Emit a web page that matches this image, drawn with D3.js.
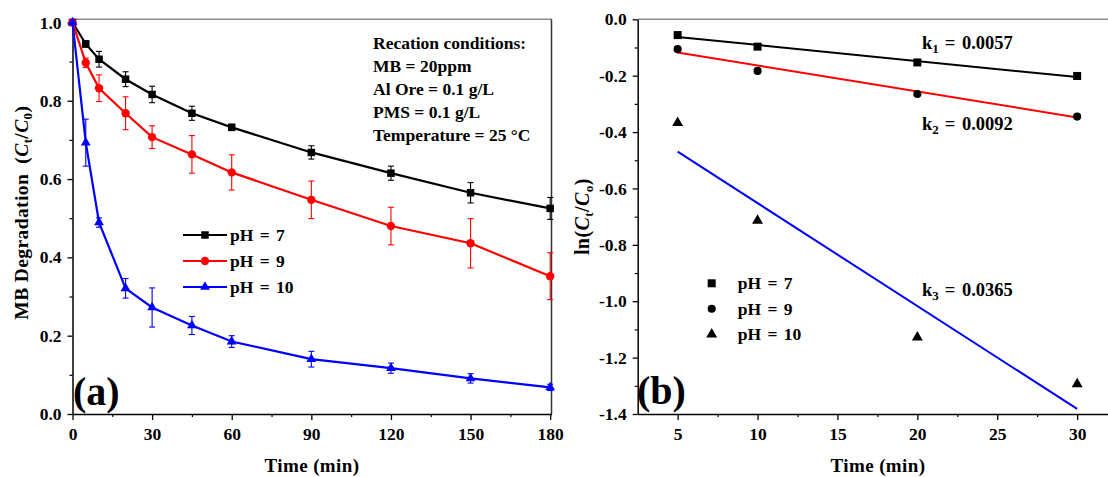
<!DOCTYPE html>
<html>
<head>
<meta charset="utf-8">
<script src="https://cdn.jsdelivr.net/npm/d3@7"></script>
<style>
  html, body { margin: 0; padding: 0; background: #fff; }
  svg text { font-family: "Liberation Serif", "Times New Roman", serif; font-weight: bold; fill: #000; }
</style>
</head>
<body>
<svg id="chart" width="1108" height="477"></svg>
<script>
// ---- data: panel (a) degradation curves ----
const times = [0, 5, 10, 20, 30, 45, 60, 90, 120, 150, 180];
const ph7 = [1.0, 0.945, 0.906, 0.855, 0.816, 0.768, 0.732, 0.668, 0.615, 0.565, 0.525];
const ph7Err = [0, 0.008, 0.02, 0.019, 0.021, 0.018, 0.008, 0.017, 0.018, 0.026, 0.028];
const ph9 = [1.0, 0.897, 0.832, 0.768, 0.707, 0.663, 0.617, 0.547, 0.480, 0.436, 0.352];
const ph9Err = [0, 0.012, 0.034, 0.042, 0.029, 0.048, 0.045, 0.048, 0.048, 0.063, 0.060];
const ph10 = [1.0, 0.693, 0.489, 0.321, 0.272, 0.226, 0.185, 0.140, 0.117, 0.091, 0.068];
const ph10Err = [0, 0.06, 0.012, 0.025, 0.05, 0.023, 0.015, 0.02, 0.013, 0.012, 0.008];
const seriesNames = ["pH = 7", "pH = 9", "pH = 10"];
const seriesColors = ["#000000", "#ff0000", "#0000ff"];

const timeTicksA = [0, 30, 60, 90, 120, 150, 180];
const degTicks = [0.0, 0.2, 0.4, 0.6, 0.8, 1.0];

const conditions = [
  "Recation conditions:",
  "MB = 20ppm",
  "Al Ore = 0.1 g/L",
  "PMS = 0.1 g/L",
  "Temperature = 25 \u00B0C"
];

// ---- data: panel (b) pseudo-first-order kinetics ----
const kinTimes = [5, 10, 20, 30];
const lnPh7 = [-0.056, -0.097, -0.153, -0.201];
const lnPh9 = [-0.106, -0.183, -0.265, -0.345];
const lnPh10 = [-0.367, -0.714, -1.128, -1.294];
const kValues = [0.0057, 0.0092, 0.0365];
const fitIntercepts = [-0.034, -0.072, -0.287];
const kLabels = ["0.0057", "0.0092", "0.0365"];

const timeTicksB = [5, 10, 15, 20, 25, 30];
const lnTicks = [0.0, -0.2, -0.4, -0.6, -0.8, -1.0, -1.2, -1.4];

const svg = d3.select("#chart");
const symbolTypes = [d3.symbolSquare, d3.symbolCircle, d3.symbolTriangle];
const TICK_FONT = 17.5;
const TITLE_FONT = 19;

function styleAxis(g) {
  g.select(".domain").attr("stroke", "#000").attr("stroke-width", 1.5);
  g.selectAll(".tick line").attr("stroke", "#000").attr("stroke-width", 1.3);
  g.selectAll(".tick text").attr("font-size", TICK_FONT)
    .style("font-family", '"Liberation Serif", serif').style("font-weight", "bold");
}
function styleMinor(g) {
  g.select(".domain").remove();
  g.selectAll("line").attr("stroke", "#000").attr("stroke-width", 1.2);
}
// label with C_t / C_0 style subscripts
function ratioLabel(sel, prefix, subA, subB, suffix, size) {
  const sub = size * 0.66;
  sel.append("tspan").text(prefix);
  sel.append("tspan").attr("font-style", "italic").text("C");
  sel.append("tspan").attr("font-size", sub).attr("dy", 4).text(subA);
  sel.append("tspan").attr("dy", -4).text("/");
  sel.append("tspan").attr("font-style", "italic").text("C");
  sel.append("tspan").attr("font-size", sub).attr("dy", 4).text(subB);
  sel.append("tspan").attr("dy", -4).text(suffix);
}

// ================= panel (a) =================
const xA = d3.scaleLinear().domain([0, 180.5]).range([72.5, 551.5]);
const yA = d3.scaleLinear().domain([0, 1.008]).range([414, 19.3]);

const gA = svg.append("g");

// frame: top and right edges
gA.append("line").attr("x1", xA.range()[0]).attr("x2", xA.range()[1])
  .attr("y1", yA.range()[1]).attr("y2", yA.range()[1])
  .attr("stroke", "#8a8a8a").attr("stroke-width", 1.5);
gA.append("line").attr("x1", xA.range()[1]).attr("x2", xA.range()[1])
  .attr("y1", yA.range()[0]).attr("y2", yA.range()[1])
  .attr("stroke", "#333").attr("stroke-width", 1.5);

// minor ticks
gA.append("g").attr("transform", `translate(0,${yA.range()[0]})`)
  .call(d3.axisBottom(xA).tickValues(d3.range(15, 181, 30)).tickSize(3).tickFormat(""))
  .call(styleMinor);
gA.append("g").attr("transform", `translate(${xA.range()[0]},0)`)
  .call(d3.axisLeft(yA).tickValues(d3.range(0.1, 1.0, 0.2)).tickSize(3).tickFormat(""))
  .call(styleMinor);

gA.append("g").attr("transform", `translate(0,${yA.range()[0]})`)
  .call(d3.axisBottom(xA).tickValues(timeTicksA).tickSize(6).tickSizeOuter(0).tickPadding(8).tickFormat(d3.format("d")))
  .call(styleAxis);
gA.append("g").attr("transform", `translate(${xA.range()[0]},0)`)
  .call(d3.axisLeft(yA).tickValues(degTicks).tickSize(5).tickSizeOuter(0).tickPadding(6).tickFormat(d3.format(".1f")))
  .call(styleAxis);

const seriesA = [
  { v: ph7, e: ph7Err }, { v: ph9, e: ph9Err }, { v: ph10, e: ph10Err }
];
const lineA = d3.line().x(d => xA(d[0])).y(d => yA(d[1]));
const markerSizeA = [56, 55, 42];

seriesA.forEach((s, i) => {
  const pts = times.map((t, j) => [t, s.v[j], s.e[j]]);
  const g = gA.append("g");
  // error bars
  const eb = g.selectAll(".eb").data(pts.filter(p => p[2] > 0)).join("g");
  eb.append("line").attr("x1", p => xA(p[0])).attr("x2", p => xA(p[0]))
    .attr("y1", p => yA(p[1] - p[2])).attr("y2", p => yA(p[1] + p[2]))
    .attr("stroke", seriesColors[i]).attr("stroke-width", 1.1);
  [-1, 1].forEach(sg => {
    eb.append("line").attr("x1", p => xA(p[0]) - 3).attr("x2", p => xA(p[0]) + 3)
      .attr("y1", p => yA(p[1] + sg * p[2])).attr("y2", p => yA(p[1] + sg * p[2]))
      .attr("stroke", seriesColors[i]).attr("stroke-width", 1.1);
  });
  g.append("path").datum(pts).attr("d", lineA)
    .attr("fill", "none").attr("stroke", seriesColors[i]).attr("stroke-width", 2.2);
  g.selectAll(".m").data(pts).join("path")
    .attr("transform", p => `translate(${xA(p[0])},${yA(p[1])})`)
    .attr("d", d3.symbol().type(symbolTypes[i]).size(markerSizeA[i]))
    .attr("fill", seriesColors[i]);
});

// legend (a)
const legA = gA.append("g");
seriesNames.forEach((name, i) => {
  const y = 235 + i * 26;
  legA.append("line").attr("x1", 183).attr("x2", 227).attr("y1", y).attr("y2", y)
    .attr("stroke", seriesColors[i]).attr("stroke-width", 2.2);
  legA.append("path").attr("transform", `translate(205,${y})`)
    .attr("d", d3.symbol().type(symbolTypes[i]).size(markerSizeA[i])).attr("fill", seriesColors[i]);
  legA.append("text").attr("x", 230).attr("y", y + 6).attr("font-size", 17.5).attr("word-spacing", 2).text(name);
});

// reaction conditions
conditions.forEach((c, i) => {
  gA.append("text").attr("x", 373).attr("y", 48.5 + i * 23.1).attr("font-size", 17.5).text(c);
});

gA.append("text").attr("x", 73).attr("y", 405).attr("font-size", 40).text("(a)");

gA.append("text").attr("x", d3.mean(xA.range())).attr("y", 472).attr("text-anchor", "middle")
  .attr("font-size", TITLE_FONT).attr("letter-spacing", 0.4).text("Time (min)");

const ylabA = gA.append("text").attr("transform", `translate(28,${d3.mean(yA.range()) - 4}) rotate(-90)`)
  .attr("text-anchor", "middle").attr("font-size", 19.5).attr("letter-spacing", 0.4);
ratioLabel(ylabA, "MB Degradation\u2002(", "t", "0", ")", 19.5);

// ================= panel (b) =================
const xB = d3.scaleLinear().domain([2.5, 32.5]).range([637.7, 1117.1]);
const yB = d3.scaleLinear().domain([-1.4, 0]).range([414, 19.3]);
const gB = svg.append("g");

gB.append("line").attr("x1", xB.range()[0]).attr("x2", xB.range()[1])
  .attr("y1", yB.range()[1]).attr("y2", yB.range()[1])
  .attr("stroke", "#8a8a8a").attr("stroke-width", 1.5);

gB.append("g").attr("transform", `translate(0,${yB.range()[0]})`)
  .call(d3.axisBottom(xB).tickValues(d3.range(7.5, 33, 5)).tickSize(3).tickFormat(""))
  .call(styleMinor);
gB.append("g").attr("transform", `translate(${xB.range()[0]},0)`)
  .call(d3.axisLeft(yB).tickValues(d3.range(-0.1, -1.4, -0.2)).tickSize(3).tickFormat(""))
  .call(styleMinor);

gB.append("g").attr("transform", `translate(0,${yB.range()[0]})`)
  .call(d3.axisBottom(xB).tickValues(timeTicksB).tickSize(6).tickSizeOuter(0).tickPadding(8).tickFormat(d3.format("d")))
  .call(styleAxis);
gB.append("g").attr("transform", `translate(${xB.range()[0]},0)`)
  .call(d3.axisLeft(yB).tickValues(lnTicks).tickSize(5).tickSizeOuter(0).tickPadding(6)
    .tickFormat(d => d === 0 ? "0.0" : d3.format(".1f")(d).replace("\u2212", "-")))
  .call(styleAxis);

// fitted lines ln(Ct/C0) = b - k t
const lnSeries = [lnPh7, lnPh9, lnPh10];
kValues.forEach((k, i) => {
  const t0 = d3.min(kinTimes), t1 = d3.max(kinTimes);
  gB.append("line")
    .attr("x1", xB(t0)).attr("y1", yB(fitIntercepts[i] - k * t0))
    .attr("x2", xB(t1)).attr("y2", yB(fitIntercepts[i] - k * t1))
    .attr("stroke", seriesColors[i]).attr("stroke-width", 2);
});

const markerSizeB = [64, 52, 52];
lnSeries.forEach((vals, i) => {
  gB.selectAll(".mb" + i).data(kinTimes.map((t, j) => [t, vals[j]])).join("path")
    .attr("transform", p => `translate(${xB(p[0])},${yB(p[1])})`)
    .attr("d", d3.symbol().type(symbolTypes[i]).size(markerSizeB[i]))
    .attr("fill", "#000");
});

// rate constant labels
const kLabelY = [49, 130, 296];
kLabels.forEach((lab, i) => {
  const t = gB.append("text").attr("x", 922).attr("y", kLabelY[i]).attr("font-size", 18.5).attr("word-spacing", 2);
  t.append("tspan").text("k");
  t.append("tspan").attr("font-size", 13).attr("dy", 4).text(String(i + 1));
  t.append("tspan").attr("dy", -4).attr("dx", 6).text("= " + lab);
});

// legend (b)
seriesNames.forEach((name, i) => {
  const y = 283.3 + i * 25.5;
  gB.append("path").attr("transform", `translate(711.7,${y})`)
    .attr("d", d3.symbol().type(symbolTypes[i]).size(markerSizeB[i])).attr("fill", "#000");
  gB.append("text").attr("x", 737.7).attr("y", y + 6).attr("font-size", 17.5).attr("word-spacing", 2).text(name);
});

gB.append("text").attr("x", 637).attr("y", 404).attr("font-size", 40).text("(b)");

gB.append("text").attr("x", 878).attr("y", 472).attr("text-anchor", "middle")
  .attr("font-size", TITLE_FONT).attr("letter-spacing", 0.4).text("Time (min)");

const ylabB = gB.append("text").attr("transform", `translate(589,${d3.mean(yB.range())}) rotate(-90)`)
  .attr("text-anchor", "middle").attr("font-size", 20).attr("letter-spacing", 0.4);
ratioLabel(ylabB, "ln(", "t", "o", ")", 20);
</script>
</body>
</html>
